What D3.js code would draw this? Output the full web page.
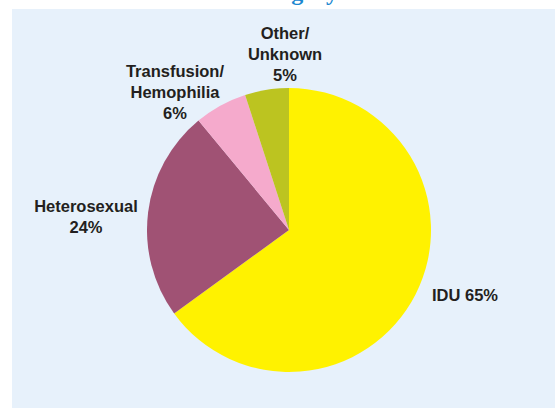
<!DOCTYPE html>
<html>
<head>
<meta charset="utf-8">
<script src="https://cdn.jsdelivr.net/npm/d3@7"></script>
<style>
  html, body { margin: 0; padding: 0; background: #fff; }
  svg { display: block; }
</style>
</head>
<body>
<div id="chart"></div>
<script>
const width = 555, height = 408;

// exposure categories, share of cases (%)
const categories = ["IDU", "Heterosexual", "Transfusion/Hemophilia", "Other/Unknown"];
const values = [65, 24, 6, 5];
const labelLines = [
    ["IDU 65%"],
    ["Heterosexual", "24%"],
    ["Transfusion/", "Hemophilia", "6%"],
    ["Other/", "Unknown", "5%"]
];
const colors = ["#FFF200", "#A05274", "#F5AACC", "#BCC420"];

// where each label block sits (x, first baseline)
const labelAt = [
    {x: 432, y: 301, anchor: "start"},
    {x: 86, y: 212, anchor: "middle"},
    {x: 175, y: 77, anchor: "middle"},
    {x: 285, y: 39, anchor: "middle"}
];

const cx = 289, cy = 230, radius = 142;

const svg = d3.select("#chart").append("svg")
    .attr("width", width)
    .attr("height", height);

// panel
svg.append("rect")
    .attr("x", 12).attr("y", 9)
    .attr("width", width - 12).attr("height", height - 9)
    .attr("fill", "#E7F1FB");

// title, cut off above the panel (only descenders show)
svg.append("text")
    .attr("x", 338).attr("y", 0)
    .attr("text-anchor", "end")
    .attr("font-family", "Liberation Serif, serif")
    .attr("font-weight", "bold")
    .attr("font-size", 24)
    .attr("fill", "#1B87D0")
    .text("Transmission Category");

const color = d3.scaleOrdinal().domain(categories).range(colors);

const pie = d3.pie().sort(null).value(d => d.value);
const arc = d3.arc().innerRadius(0).outerRadius(radius);

const data = categories.map((c, i) => ({name: c, value: values[i], i: i}));

const g = svg.append("g").attr("transform", `translate(${cx},${cy})`);

g.selectAll("path")
    .data(pie(data))
    .enter()
    .append("path")
    .attr("d", arc)
    .attr("fill", d => color(d.data.name));

const labels = svg.append("g")
    .attr("font-family", "Liberation Sans, Arial, sans-serif")
    .attr("font-weight", "bold")
    .attr("font-size", 16.5)
    .attr("fill", "#231F20");

labels.selectAll("text")
    .data(data)
    .enter()
    .append("text")
    .attr("text-anchor", d => labelAt[d.i].anchor)
    .each(function (d) {
        const t = d3.select(this);
        labelLines[d.i].forEach((line, k) => {
            t.append("tspan")
                .attr("x", labelAt[d.i].x)
                .attr("y", labelAt[d.i].y + k * 21)
                .text(line);
        });
    });
</script>
</body>
</html>
